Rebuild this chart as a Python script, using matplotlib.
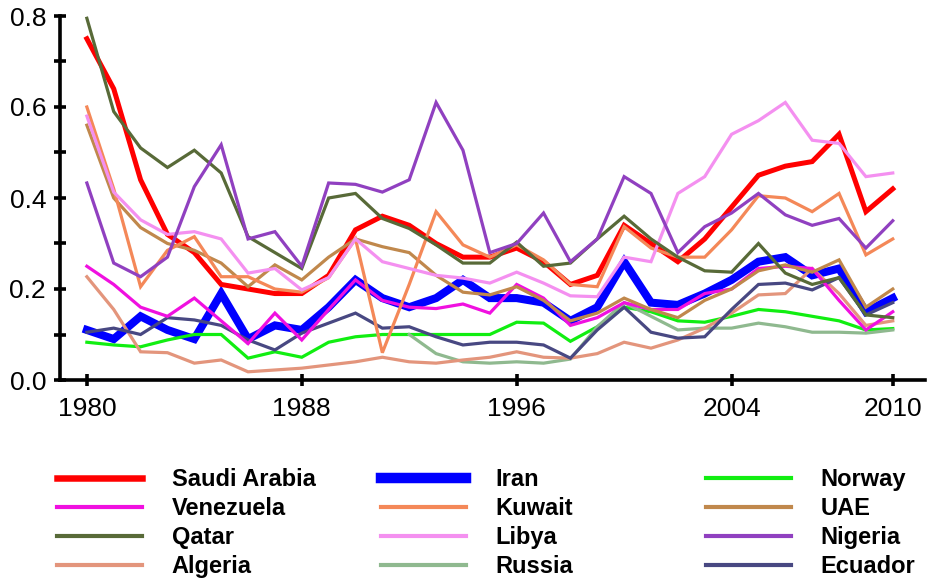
import numpy as np
import matplotlib
matplotlib.use("Agg")
import matplotlib.pyplot as plt
from matplotlib.ticker import MultipleLocator, FixedLocator

years = list(range(1980, 2011))
nan = np.nan

saudi = [0.75, 0.64, 0.44, 0.32, 0.28, 0.21, 0.20, 0.19, 0.19, 0.23, 0.33, 0.36, 0.34, 0.30, 0.27, 0.27,
         0.29, 0.26, 0.21, 0.23, 0.34, 0.30, 0.26, 0.31, 0.38, 0.45, 0.47, 0.48, 0.54, 0.37, 0.42]
iran = [0.11, 0.09, 0.14, 0.11, 0.09, 0.19, 0.09, 0.12, 0.11, 0.16, 0.22, 0.18, 0.16, 0.18, 0.22, 0.18,
        0.18, 0.17, 0.13, 0.16, 0.26, 0.17, 0.165, 0.19, 0.22, 0.26, 0.27, 0.23, 0.245, 0.15, 0.18]
norway = [0.083, 0.077, 0.073, 0.088, 0.10, 0.10, 0.048, 0.062, 0.05, 0.083, 0.095, 0.10, 0.10, 0.10, 0.10, 0.10,
          0.127, 0.125, 0.085, 0.117, 0.16, 0.15, 0.13, 0.127, 0.14, 0.155, 0.15, 0.14, 0.13, 0.11, 0.113]
venezuela = [0.25, 0.21, 0.16, 0.14, 0.18, 0.13, 0.08, 0.147, 0.088, 0.155, 0.22, 0.175, 0.16, 0.157, 0.167, 0.147,
             0.21, 0.18, 0.12, 0.137, 0.17, 0.155, 0.155, 0.19, 0.20, 0.245, 0.25, 0.245, 0.175, 0.11, 0.15]
kuwait = [0.60, 0.42, 0.205, 0.285, 0.315, 0.227, 0.227, 0.200, 0.193, 0.225, 0.31, 0.06, 0.21, 0.37, 0.297, 0.27,
          0.297, 0.264, 0.21, 0.205, 0.337, 0.29, 0.27, 0.27, 0.33, 0.405, 0.40, 0.37, 0.41, 0.275, 0.31]
uae = [0.56, 0.40, 0.335, 0.30, 0.285, 0.257, 0.205, 0.253, 0.22, 0.27, 0.31, 0.293, 0.28, 0.23, 0.193, 0.187,
       0.205, 0.175, 0.13, 0.147, 0.18, 0.155, 0.137, 0.175, 0.20, 0.24, 0.253, 0.237, 0.264, 0.16, 0.20]
qatar = [0.795, 0.59, 0.51, 0.467, 0.505, 0.455, 0.315, 0.28, 0.245, 0.40, 0.41, 0.355, 0.333, 0.297, 0.257, 0.257,
         0.303, 0.25, 0.257, 0.31, 0.36, 0.31, 0.27, 0.24, 0.237, 0.30, 0.235, 0.21, 0.225, 0.143, 0.137]
libya = [0.58, 0.413, 0.352, 0.32, 0.326, 0.31, 0.235, 0.245, 0.198, 0.225, 0.31, 0.26, 0.245, 0.23, 0.224, 0.213,
         0.237, 0.213, 0.185, 0.183, 0.27, 0.26, 0.41, 0.447, 0.54, 0.57, 0.61, 0.527, 0.52, 0.447, 0.455]
nigeria = [0.433, 0.257, 0.227, 0.27, 0.425, 0.517, 0.31, 0.326, 0.25, 0.433, 0.43, 0.413, 0.44, 0.61, 0.505, 0.28,
           0.30, 0.367, 0.26, 0.31, 0.447, 0.41, 0.28, 0.337, 0.367, 0.41, 0.363, 0.34, 0.355, 0.29, 0.35]
algeria = [0.227, 0.155, 0.062, 0.06, 0.037, 0.044, 0.018, 0.022, 0.026, 0.033, 0.04, 0.05, 0.04, 0.037, 0.044, 0.05,
           0.062, 0.05, 0.048, 0.058, 0.083, 0.07, 0.088, 0.114, 0.147, 0.187, 0.19, 0.245, 0.19, 0.12, 0.13]
russia = [nan] * 12 + [0.10, 0.058, 0.04, 0.037, 0.04, 0.037, 0.046, 0.117, 0.17, 0.14, 0.11, 0.114, 0.114,
                       0.125, 0.117, 0.105, 0.105, 0.103, 0.11]
ecuador = [0.105, 0.114, 0.10, 0.137, 0.132, 0.12, 0.088, 0.066, 0.103, 0.125, 0.147, 0.114, 0.117, 0.095, 0.077, 0.083,
           0.083, 0.077, 0.048, 0.11, 0.16, 0.105, 0.092, 0.095, 0.155, 0.21, 0.213, 0.198, 0.225, 0.143, 0.17]

# name, values, colour, width (drawing order)
series = [
    ("Iran", iran, "#0000ff", 5.8),
    ("Saudi Arabia", saudi, "#ff0000", 3.6),
    ("Norway", norway, "#11ee11", 2.3),
    ("Russia", russia, "#8fb98f", 2.3),
    ("Algeria", algeria, "#e3957c", 2.3),
    ("Ecuador", ecuador, "#484882", 2.3),
    ("Venezuela", venezuela, "#f010e0", 2.3),
    ("UAE", uae, "#c0884c", 2.3),
    ("Kuwait", kuwait, "#f48858", 2.3),
    ("Libya", libya, "#f490f0", 2.3),
    ("Qatar", qatar, "#586a38", 2.3),
    ("Nigeria", nigeria, "#9040c0", 2.3),
]

fig = plt.figure(figsize=(9.27, 5.82), dpi=100)
ax = fig.add_axes([60 / 927, 1 - 380 / 582, 865 / 927, 364 / 582])

lines = {}
for name, vals, col, lw in series:
    (ln,) = ax.plot(years, vals, color=col, lw=lw, solid_joinstyle="miter", clip_on=False)
    lines[name] = ln

ax.set_xlim(1979.0, 2011.2)
ax.set_ylim(0, 0.8)
for s in ("top", "right"):
    ax.spines[s].set_visible(False)
for s in ("left", "bottom"):
    ax.spines[s].set_linewidth(2.6)

ax.xaxis.set_major_locator(FixedLocator([1980, 1988, 1996, 2004, 2010]))
ax.yaxis.set_major_locator(MultipleLocator(0.2))
ax.yaxis.set_minor_locator(MultipleLocator(0.1))
ax.yaxis.set_major_formatter(plt.FuncFormatter(lambda v, p: f"{v:.1f}"))
ax.tick_params(axis="both", which="both", direction="inout", width=2.6, length=8,
               labelsize=19, pad=6)
ax.tick_params(axis="x", pad=8)
for t in ax.get_xticklabels() + ax.get_yticklabels():
    t.set_family(["Liberation Sans", "DejaVu Sans"])

legend_cols = [
    ["Saudi Arabia", "Venezuela", "Qatar", "Algeria"],
    ["Iran", "Kuwait", "Libya", "Russia"],
    ["Norway", "UAE", "Nigeria", "Ecuador"],
]
col_x = [57, 381, 706]
for names, x0 in zip(legend_cols, col_x):
    leg = fig.legend([lines[n] for n in names], names, loc="upper left",
                     bbox_to_anchor=(x0 / 927, 1 - 468 / 582), frameon=False,
                     handlelength=3.6, handletextpad=1.25, labelspacing=0.26,
                     borderpad=0, borderaxespad=0,
                     prop={"family": ["Liberation Sans Narrow", "Liberation Sans"],
                           "weight": "bold", "size": 17})
    for h in leg.legend_handles:
        h.set_linewidth(h.get_linewidth() * 1.3)

fig.savefig("out.png", dpi=100)
